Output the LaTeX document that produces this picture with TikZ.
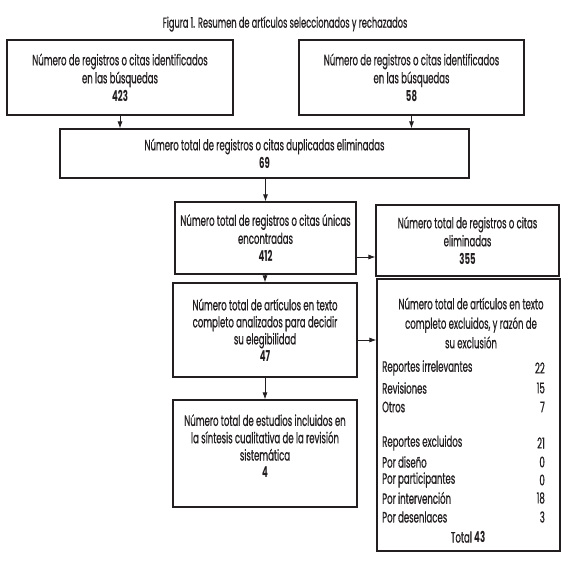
\documentclass[tikz,border=0pt]{standalone}
\usepackage{fontspec}
\setmainfont{Poppins}[FakeStretch=0.57, UprightFeatures={FakeBold=0.6}]
\usetikzlibrary{arrows.meta}
\definecolor{ink}{HTML}{231F20}
\begin{document}
\begin{tikzpicture}[x=1pt,y=-1pt,
  every node/.style={text=ink},
  box/.style={draw=ink, line width=1.1pt, inner sep=0pt, align=center,
    font=\fontsize{15}{18}\selectfont},
  txt/.style={inner sep=0pt, align=center, font=\fontsize{15}{18}\selectfont},
  row/.style={inner sep=0pt, font=\fontsize{15}{18}\selectfont},
  arr/.style={draw=ink, line width=0.9pt, -{Latex[length=7pt,width=5pt]}}]
\useasboundingbox[fill=white] (0,0) rectangle (570,561);
\node[txt, font=\fontsize{14.5}{18}\selectfont] (title) at (285,24) {Figura 1. Resumen de artículos seleccionados y rechazados};
\node[box, minimum width=226pt, minimum height=75pt] (A) at (120,77.5)
  {Número de registros o citas identificados\\en las búsquedas\\\textbf{423}};
\node[box, minimum width=225pt, minimum height=75pt] (B) at (411.5,77.5)
  {Número de registros o citas identificados\\en las búsquedas\\\textbf{58}};
\node[box, minimum width=409pt, minimum height=49pt] (C) at (264.5,153.5)
  {Número total de registros o citas duplicadas eliminadas\\\textbf{69}};
\node[box, minimum width=181pt, minimum height=72pt] (D) at (265.5,238)
  {Número total de registros o citas únicas\\encontradas\\\textbf{412}};
\node[box, minimum width=183pt, minimum height=71pt] (E) at (467.5,240.5)
  {Número total de registros o citas\\eliminadas\\\textbf{355}};
\node[box, minimum width=184pt, minimum height=94pt, font=\fontsize{15}{17}\selectfont] (F) at (265,330)
  {Número total de artículos en texto\\completo analizados para decidir\\su elegibilidad\\\textbf{47}};
\node[box, minimum width=184pt, minimum height=107pt] (H) at (265,453.5) {};
\node[txt, font=\fontsize{15}{17.3}\selectfont] (Ht) at (265,446)
  {Número total de estudios incluidos en\\la síntesis cualitativa de la revisión\\sistemática\\\textbf{4}};
\node[box, minimum width=183pt, minimum height=272pt] (G) at (468.5,415) {};
\node[txt, font=\fontsize{15}{19.5}\selectfont] (Gt) at (471,323)
  {Número total de artículos en texto\\completo excluidos, y razón de\\su exclusión};
\foreach \t/\n/\y [count=\i] in {Reportes irrelevantes/22/368, Revisiones/15/388,
    Otros/7/407, Reportes excluidos/21/443, Por diseño/0/462,
    Por participantes/0/480, Por intervención/18/498, Por desenlaces/3/517}{
  \node[row, anchor=west] (r\i) at (382,\y) {\t};
  \node[row, anchor=east] (v\i) at (545,\y) {\n};
}
\node[row] (tot) at (468,537) {Total \textbf{43}};
\draw[arr] (A.south) -- (A.south |- C.north);
\draw[arr] (B.south) -- (B.south |- C.north);
\draw[arr] (D.north |- C.south) -- (D.north);
\draw[arr] ([yshift=-19pt]D.east) -- ([yshift=-19pt]D.east -| E.west);
\draw[arr] (F.north |- D.south) -- (F.north);
\draw[arr] ([yshift=-10pt]F.east) -- ([yshift=-10pt]F.east -| G.west);
\draw[arr] (F.south) -- (H.north);
\end{tikzpicture}
\end{document}
